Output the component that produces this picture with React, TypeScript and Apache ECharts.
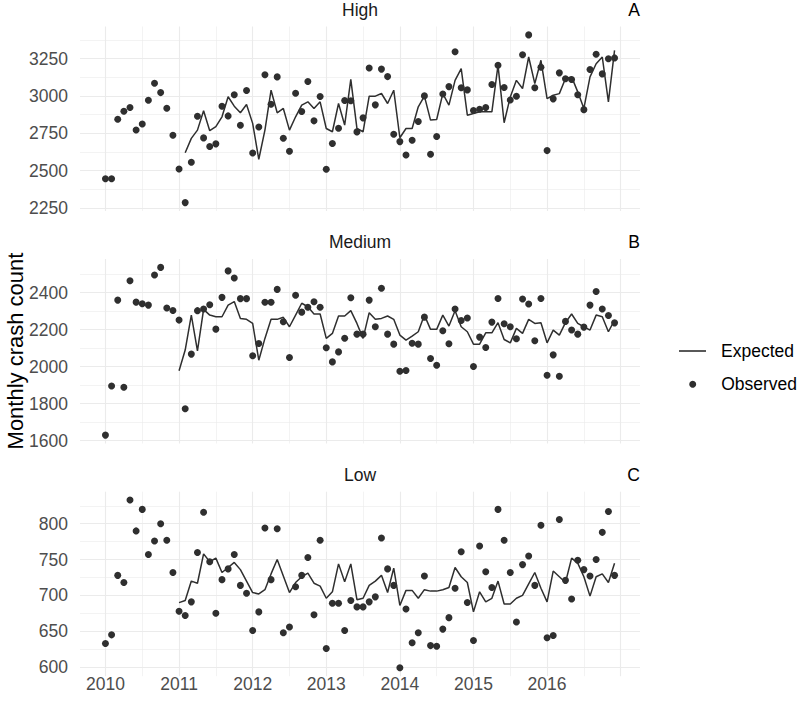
import React, { useEffect, useRef } from 'react';
import * as echarts from 'echarts';

// ---- data (monthly, Jan 2010 .. Dec 2016) ----
const years = [2010, 2011, 2012, 2013, 2014, 2015, 2016];
const yearTicks = [2010, 2011, 2012, 2013, 2014, 2015, 2016];
const yearGrid = [2010, 2011, 2012, 2013, 2014, 2015, 2016, 2017];
const halfYearGrid = [2010.5, 2011.5, 2012.5, 2013.5, 2014.5, 2015.5, 2016.5];

const highObserved = [
  2446, 2446, 2844, 2897, 2922, 2772, 2812, 2971, 3085, 3022, 2917, 2737,
  2511, 2286, 2556, 2864, 2719, 2661, 2679, 2931, 2866, 3007, 2804, 3036,
  2618, 2792, 3141, 2944, 3127, 2717, 2629, 3018, 2895, 3096, 2833, 2996,
  2509, 2681, 2783, 2969, 2967, 2759, 2853, 3187, 2940, 3179, 3129, 2743,
  2694, 2604, 2703, 2829, 3000, 2609, 2728, 3013, 3062, 3295, 3054, 3040,
  2902, 2911, 2922, 3076, 3205, 3056, 2973, 2998, 3275, 3408, 3054, 3192,
  2634, 2980, 3154, 3114, 3109, 3007, 2908, 3176, 3279, 3147, 3248, 3254,
];
const highExpected = [
  null, null, null, null, null, null, null, null, null, null, null, null,
  null, 2620, 2716, 2771, 2900, 2767, 2794, 2860, 2994, 2931, 2887, 2942,
  2816, 2576, 2771, 3038, 2887, 2916, 2771, 2860, 2938, 2960, 2916, 2960,
  2782, 2760, 2949, 2805, 3111, 2782, 2760, 2998, 2998, 3016, 2949, 3038,
  2720, 2782, 2782, 2927, 2998, 2838, 2842, 3015, 2938, 3104, 3182, 2871,
  2882, 2893, 2893, 2893, 3204, 2820, 2993, 3104, 3049, 3260, 3082, 3238,
  2982, 3004, 3015, 3116, 3127, 3027, 2916, 3127, 3215, 3260, 2960, 3304,
];
const mediumObserved = [
  1630, 1896, 2360, 1889, 2465, 2349, 2340, 2333, 2496, 2537, 2317, 2304,
  2252, 1773, 2068, 2303, 2312, 2335, 2203, 2375, 2518, 2480, 2368, 2368,
  2059, 2125, 2348, 2348, 2418, 2243, 2050, 2386, 2295, 2321, 2351, 2321,
  2102, 2026, 2080, 2154, 2373, 2176, 2176, 2360, 2216, 2424, 2176, 2122,
  1975, 1979, 2127, 2122, 2268, 2044, 2008, 2194, 2124, 2312, 2250, 2263,
  2001, 2160, 2104, 2241, 2369, 2232, 2216, 2151, 2366, 2339, 2140, 2369,
  1954, 2064, 1948, 2245, 2198, 2176, 2214, 2333, 2407, 2312, 2277, 2237,
];
const mediumExpected = [
  null, null, null, null, null, null, null, null, null, null, null, null,
  1978, 2090, 2279, 2086, 2310, 2279, 2270, 2270, 2333, 2352, 2261, 2256,
  2234, 2035, 2153, 2256, 2256, 2267, 2216, 2279, 2343, 2324, 2285, 2285,
  2153, 2180, 2274, 2274, 2303, 2234, 2153, 2292, 2256, 2261, 2274, 2256,
  2171, 2144, 2165, 2189, 2279, 2202, 2202, 2279, 2220, 2303, 2216, 2189,
  2122, 2122, 2183, 2183, 2238, 2147, 2129, 2207, 2180, 2256, 2234, 2238,
  2129, 2198, 2171, 2238, 2285, 2234, 2216, 2198, 2279, 2270, 2189, 2252,
];
const lowObserved = [
  633, 645, 728, 718, 833, 790, 820, 757, 776, 800, 777, 732,
  678, 672, 691, 760, 816, 747, 675, 722, 737, 757, 714, 703,
  651, 677, 794, 722, 793, 648, 656, 712, 728, 753, 673, 777,
  626, 689, 689, 651, 693, 684, 684, 691, 698, 780, 737, 714,
  599, 681, 634, 648, 727, 630, 629, 653, 669, 710, 761, 690,
  637, 769, 733, 711, 820, 777, 732, 663, 743, 755, 714, 798,
  641, 644, 806, 721, 695, 749, 736, 727, 750, 788, 817, 728,
];
const lowExpected = [
  null, null, null, null, null, null, null, null, null, null, null, null,
  690, 693, 720, 717, 758, 747, 752, 732, 739, 746, 736, 720,
  704, 702, 708, 730, 750, 727, 704, 718, 726, 731, 717, 713,
  696, 705, 744, 719, 744, 694, 696, 714, 720, 728, 704, 738,
  686, 707, 707, 696, 708, 706, 706, 708, 711, 739, 726, 718,
  677, 705, 691, 696, 720, 688, 688, 696, 700, 716, 732, 710,
  691, 734, 726, 718, 752, 745, 726, 699, 726, 730, 718, 745,
];

const highTicks = [2250, 2500, 2750, 3000, 3250];
const highMinor = [2375, 2625, 2875, 3125, 3375];
const mediumTicks = [1600, 1800, 2000, 2200, 2400];
const mediumMinor = [1700, 1900, 2100, 2300, 2500];
const lowTicks = [600, 650, 700, 750, 800];
const lowMinor = [625, 675, 725, 775, 825];

const panelNames = ['High', 'Medium', 'Low'];
const panelTags = ['A', 'B', 'C'];

const FONT = '"Liberation Sans", Arial, Helvetica, sans-serif';
const INK = '#2f2f2f';
const GRID = '#EBEBEB';
const TICK = '#4D4D4D';

const App: React.FC = () => {
  const ref = useRef<HTMLDivElement>(null);

  useEffect(() => {
    if (!ref.current) return;
    const chart = echarts.init(ref.current, undefined, { renderer: 'svg' });

    const xOf = (i: number) => years[0] + i / 12;
    const xFirst = xOf(0);
    const xLast = xOf(highObserved.length - 1);
    const xPad = (xLast - xFirst) * 0.05;
    const xMin = xFirst - xPad;
    const xMax = xLast + xPad;

    const panels = [
      { obs: highObserved, exp: highExpected, ticks: highTicks, minor: highMinor },
      { obs: mediumObserved, exp: mediumExpected, ticks: mediumTicks, minor: mediumMinor },
      { obs: lowObserved, exp: lowExpected, ticks: lowTicks, minor: lowMinor },
    ];

    const tops = [26.5, 259, 491.7];
    const H = 184.5;
    const L = 80;
    const W = 560;

    const grids: any[] = [];
    const xAxes: any[] = [];
    const yAxes: any[] = [];
    const series: any[] = [];
    const graphics: any[] = [];

    panels.forEach((p, k) => {
      const vals = [...p.obs, ...(p.exp.filter((v) => v != null) as number[])];
      const lo = Math.min(...vals);
      const hi = Math.max(...vals);
      const pad = (hi - lo) * 0.05;

      grids.push({ left: L, width: W, top: tops[k], height: H, containLabel: false });
      xAxes.push({
        type: 'value',
        gridIndex: k,
        min: xMin,
        max: xMax,
        axisLine: { show: false },
        axisTick: { show: false },
        splitLine: { show: false },
        axisLabel: {
          show: k === 2,
          customValues: yearTicks,
          formatter: (v: number) => String(Math.round(v)),
          color: TICK,
          fontSize: 17.5,
          lineHeight: 18,
          fontFamily: FONT,
          margin: -1,
        },
      });
      yAxes.push({
        type: 'value',
        gridIndex: k,
        min: lo - pad,
        max: hi + pad,
        axisLine: { show: false },
        axisTick: { show: false },
        splitLine: { show: false },
        axisLabel: {
          customValues: p.ticks,
          formatter: (v: number) => String(v),
          color: TICK,
          fontSize: 17.5,
          fontFamily: FONT,
          margin: 12,
        },
      });

      const gridLines: any[] = [
        ...p.ticks.map((v) => ({ yAxis: v, lineStyle: { width: 1.1 } })),
        ...p.minor.map((v) => ({ yAxis: v, lineStyle: { width: 0.6 } })),
        ...yearGrid.map((v) => ({ xAxis: v, lineStyle: { width: 1.1 } })),
        ...halfYearGrid.map((v) => ({ xAxis: v, lineStyle: { width: 0.6 } })),
      ];

      series.push({
        type: 'line',
        name: 'Expected',
        xAxisIndex: k,
        yAxisIndex: k,
        data: p.exp
          .map((v, i) => (v == null ? null : [xOf(i), v]))
          .filter((d) => d != null),
        showSymbol: false,
        symbol: 'none',
        lineStyle: { color: INK, width: 1.5 },
        itemStyle: { color: INK },
        z: 3,
        silent: true,
        markLine: {
          silent: true,
          z: 1,
          symbol: ['none', 'none'],
          label: { show: false },
          emphasis: { disabled: true },
          lineStyle: { color: GRID, type: 'solid', width: 1 },
          data: gridLines,
        },
      });
      series.push({
        type: 'scatter',
        name: 'Observed',
        xAxisIndex: k,
        yAxisIndex: k,
        data: p.obs.map((v, i) => [xOf(i), v]),
        symbol: 'circle',
        symbolSize: 7,
        itemStyle: { color: INK, opacity: 1 },
        z: 4,
        silent: true,
      });

      graphics.push({
        type: 'text',
        x: L + W / 2,
        y: tops[k] - 17,
        style: {
          text: panelNames[k],
          align: 'center',
          verticalAlign: 'middle',
          fontSize: 17.5,
          fontFamily: FONT,
          fill: '#1A1A1A',
        },
      });
      graphics.push({
        type: 'text',
        x: L + W,
        y: tops[k] - 17,
        style: {
          text: panelTags[k],
          align: 'right',
          verticalAlign: 'middle',
          fontSize: 17.5,
          fontFamily: FONT,
          fill: '#000000',
        },
      });
    });

    graphics.push({
      type: 'text',
      x: 15,
      y: 351,
      rotation: Math.PI / 2,
      style: {
        text: 'Monthly crash count',
        align: 'center',
        verticalAlign: 'middle',
        fontSize: 22,
        fontFamily: FONT,
        fill: '#000000',
      },
    });

    chart.setOption({
      animation: false,
      backgroundColor: '#ffffff',
      grid: grids,
      xAxis: xAxes,
      yAxis: yAxes,
      series,
      graphic: graphics,
      legend: [
        {
          data: [{ name: 'Expected', icon: 'rect' }],
          left: 679,
          top: 341,
          padding: 0,
          itemWidth: 27,
          itemHeight: 1.6,
          selectedMode: false,
          textStyle: { fontSize: 17.5, fontFamily: FONT, color: '#000', lineHeight: 20, padding: [0, 0, 0, 10] },
        },
        {
          data: [{ name: 'Observed', icon: 'circle' }],
          left: 689.2,
          top: 374.3,
          padding: 0,
          itemWidth: 7,
          itemHeight: 7,
          selectedMode: false,
          textStyle: { fontSize: 17.5, fontFamily: FONT, color: '#000', lineHeight: 20, padding: [0, 0, 0, 20] },
        },
      ],
    });

    return () => chart.dispose();
  }, []);

  return (
    <div
      ref={ref}
      style={{ position: 'absolute', left: 0, top: 0, width: 800, height: 701, background: '#fff' }}
    />
  );
};

export default App;
